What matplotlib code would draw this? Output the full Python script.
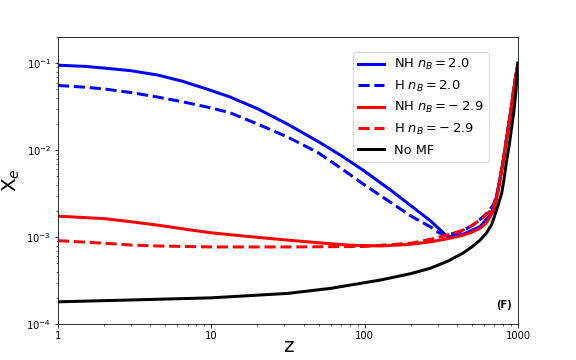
import matplotlib
matplotlib.use("Agg")
import matplotlib.pyplot as plt
from matplotlib.ticker import FixedLocator, FixedFormatter

# NH, n_B = 2.0
z_nh_pos = [1, 1.5, 2, 3, 4.5, 6.5, 9.5, 13.2, 20, 31.6, 50, 70, 97.5, 150, 200, 267, 350,
            440, 565, 660, 690, 720, 760, 800, 830, 865, 900, 930, 965, 1000]
xe_nh_pos = [0.095, 0.092, 0.088, 0.082, 0.073, 0.062, 0.050, 0.041, 0.030, 0.0198, 0.0125, 0.0087,
             0.0059, 0.0034, 0.0023, 0.00155, 0.00100,
             0.00108, 0.00132, 0.0018, 0.0022, 0.0028, 0.0045, 0.0075, 0.0115, 0.0185, 0.029,
             0.045, 0.07, 0.1]

# H, n_B = 2.0
z_h_pos = [1, 1.5, 2, 3, 4.5, 6.5, 9.5, 13.2, 20, 31.6, 50, 70, 97.5, 150, 200, 267, 300, 325,
           361, 418, 510, 610, 690, 730, 760, 800, 830, 865, 900, 930, 965, 1000]
xe_h_pos = [0.0555, 0.053, 0.0506, 0.046, 0.0407, 0.036, 0.0312, 0.027, 0.020, 0.0141, 0.0093,
            0.0062, 0.0041, 0.00246, 0.00175, 0.00132, 0.00115, 0.00105,
            0.00108, 0.00115, 0.00137, 0.00179, 0.00233, 0.0031, 0.0045, 0.0075, 0.0115,
            0.0185, 0.029, 0.045, 0.07, 0.1]

# NH, n_B = -2.9
z_nh_neg = [1, 2, 3, 4.5, 7, 10, 17, 28, 50, 77, 126, 190, 267, 350, 438, 500, 565, 620, 657,
            690, 720, 760, 800, 830, 865, 900, 930, 965, 1000]
xe_nh_neg = [1.74e-3, 1.63e-3, 1.5e-3, 1.37e-3, 1.22e-3, 1.12e-3, 1.02e-3, 9.4e-4, 8.6e-4, 8.1e-4,
             7.9e-4, 8.2e-4, 8.8e-4, 9.6e-4, 1.05e-3, 1.14e-3, 1.26e-3, 1.45e-3, 1.71e-3,
             2.0e-3, 2.6e-3, 4.3e-3, 7.3e-3, 0.0112, 0.0185, 0.029, 0.045, 0.068, 0.1]

# H, n_B = -2.9
z_h_neg = [1, 2, 3, 4.5, 10, 31.6, 100, 200, 267, 350, 438, 500, 565, 630, 690, 730, 760, 800,
           830, 865, 900, 930, 965, 1000]
xe_h_neg = [9.1e-4, 8.5e-4, 8.1e-4, 7.9e-4, 7.7e-4, 7.7e-4, 7.8e-4, 8.5e-4, 9.4e-4, 1.06e-3,
            1.2e-3, 1.36e-3, 1.57e-3, 1.85e-3, 2.2e-3, 3.0e-3, 4.5e-3, 7.5e-3,
            0.0115, 0.0185, 0.029, 0.045, 0.07, 0.1]

# no magnetic field
z_nomf = [1, 3, 10, 31.6, 60, 126, 200, 267, 350, 438, 500, 565, 620, 674, 700, 740, 783, 810,
          844, 880, 910, 940, 970, 1000]
xe_nomf = [1.8e-4, 1.89e-4, 2.0e-4, 2.25e-4, 2.57e-4, 3.2e-4, 3.8e-4, 4.37e-4, 5.3e-4, 6.55e-4,
           7.7e-4, 9.2e-4, 1.1e-3, 1.4e-3, 1.7e-3, 2.3e-3, 3.2e-3, 4.6e-3,
           7.7e-3, 0.012, 0.0185, 0.028, 0.048, 0.1]

x_ticks = [1, 10, 100, 1000]
x_ticklabels = ["1", "10", "100", "1000"]

fig = plt.figure(figsize=(8, 5), dpi=72)
ax = fig.add_axes([0.1007, 0.1, 0.7986, 0.797])

ax.plot(z_nh_pos, xe_nh_pos, color="blue", lw=3, label=r"NH $n_B = 2.0$")
ax.plot(z_h_pos, xe_h_pos, color="blue", lw=3, ls="--", label=r"H $n_B = 2.0$")
ax.plot(z_nh_neg, xe_nh_neg, color="red", lw=3, label=r"NH $n_B = -\:2.9$")
ax.plot(z_h_neg, xe_h_neg, color="red", lw=3, ls="--", label=r"H $n_B = -\:2.9$")
ax.plot(z_nomf, xe_nomf, color="black", lw=3, label="No MF")

ax.set_xscale("log")
ax.set_yscale("log")
ax.set_xlim(1, 1000)
ax.set_ylim(1e-4, 0.2)
ax.xaxis.set_major_locator(FixedLocator(x_ticks))
ax.xaxis.set_major_formatter(FixedFormatter(x_ticklabels))
ax.tick_params(labelsize=10)

ax.set_xlabel("z", fontsize=20, labelpad=-4)
ax.set_ylabel(r"X$_e$", fontsize=20)

ax.text(0.987, 0.066, "(F)", transform=ax.transAxes, ha="right", va="center",
        fontsize=10, fontweight="bold")

ax.legend(loc="upper right", bbox_to_anchor=(0.937, 0.948), borderaxespad=0, fontsize=13)

fig.savefig("out.png", dpi=72)
